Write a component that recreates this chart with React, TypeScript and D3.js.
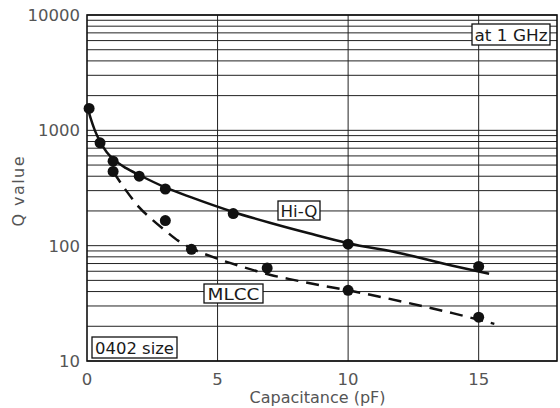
import React from "react";
import * as d3 from "d3";

const xTicks = [0, 5, 10, 15];
const yTicks = [10, 100, 1000, 10000];

// measured points
const hiqPtsX = [0.08, 0.5, 1, 2, 3, 5.6, 10, 15];
const hiqPtsY = [1550, 780, 540, 400, 310, 190, 103, 66];
const mlccPtsX = [1, 3, 4, 6.9, 10, 15];
const mlccPtsY = [440, 165, 93, 64, 41, 24];

// fitted curves
const hiqCurveX = [0, 0.15, 0.3, 0.5, 0.75, 1, 1.5, 2, 3, 4, 5.6, 7, 8.5, 10, 12, 14, 15.4];
const hiqCurveY = [1650, 1250, 1000, 800, 650, 565, 470, 410, 320, 262, 196, 158, 128, 105, 86, 67, 57];
const mlccCurveX = [1, 1.5, 2, 2.5, 3, 3.5, 4, 5, 6, 7, 8, 9, 10, 12, 14, 15.6];
const mlccCurveY = [440, 300, 215, 168, 135, 110, 95, 77, 65, 56, 50, 45, 41, 33, 26, 21];

const W = 560, H = 408;
const m = { left: 87, right: 557, top: 15, bottom: 361 };

export default function App() {
  const x = d3.scaleLinear().domain([0, 18]).range([m.left, m.right]);
  const y = d3.scaleLog().domain([10, 10000]).range([m.bottom, m.top]);

  const minor: number[] = [];
  [10, 100, 1000].forEach((d) => {
    for (let k = 1; k <= 9; k++) minor.push(d * k);
  });
  minor.push(10000);

  const line = d3
    .line<[number, number]>()
    .x((d) => x(d[0]))
    .y((d) => y(d[1]))
    .curve(d3.curveMonotoneX);

  const hiqCurve: [number, number][] = hiqCurveX.map((v, i) => [v, hiqCurveY[i]]);
  const mlccCurve: [number, number][] = mlccCurveX.map((v, i) => [v, mlccCurveY[i]]);

  const font = "'DejaVu Sans', sans-serif";
  const tickColor = "#555";

  const boxLabel = (
    label: string,
    bx: number,
    by: number,
    bw: number,
    bh: number,
    tl: number,
    key: string
  ) => (
    <g key={key}>
      <rect x={bx} y={by} width={bw} height={bh} fill="white" stroke="#111" strokeWidth={1.3} />
      <text
        x={bx + bw / 2}
        y={by + bh / 2 + 6}
        textAnchor="middle"
        fontSize={16.5}
        fontFamily={font}
        fill="#1a1a1a"
        textLength={tl}
        lengthAdjust="spacingAndGlyphs"
      >
        {label}
      </text>
    </g>
  );

  return (
    <svg width={W} height={H} style={{ position: "absolute", left: 0, top: 0, background: "white" }}>
      <rect x={0} y={0} width={W} height={H} fill="white" />
      {/* horizontal grid */}
      {minor.map((v) => (
        <line key={"h" + v} x1={m.left} x2={m.right} y1={y(v)} y2={y(v)} stroke="#222" strokeWidth={1} />
      ))}
      {/* vertical grid */}
      {xTicks.slice(1).map((v) => (
        <line key={"v" + v} x1={x(v)} x2={x(v)} y1={m.top} y2={m.bottom} stroke="#222" strokeWidth={1} />
      ))}
      {/* border */}
      <rect
        x={m.left}
        y={m.top}
        width={m.right - m.left}
        height={m.bottom - m.top}
        fill="none"
        stroke="#111"
        strokeWidth={1.6}
      />
      {/* curves */}
      <path d={line(hiqCurve) || ""} fill="none" stroke="#111" strokeWidth={2.5} />
      <path d={line(mlccCurve) || ""} fill="none" stroke="#111" strokeWidth={2.5} strokeDasharray="13,8" />
      {/* points */}
      {hiqPtsX.map((v, i) => (
        <circle key={"hp" + i} cx={x(v)} cy={y(hiqPtsY[i])} r={5.5} fill="#111" />
      ))}
      {mlccPtsX.map((v, i) => (
        <circle key={"mp" + i} cx={x(v)} cy={y(mlccPtsY[i])} r={5.5} fill="#111" />
      ))}
      {/* labels */}
      {boxLabel("Hi-Q", 278, 201, 42, 19, 37, "hiq")}
      {boxLabel("MLCC", 204, 284, 59, 19, 52, "mlcc")}
      {boxLabel("0402 size", 92, 337, 85, 21, 79, "size")}
      {boxLabel("at 1 GHz", 472, 24, 78, 21, 73, "ghz")}
      {/* y ticks */}
      {yTicks.map((v) => (
        <text
          key={"yt" + v}
          x={80}
          y={y(v) + 6}
          textAnchor="end"
          fontSize={16.5}
          fontFamily={font}
          fill={tickColor}
        >
          {v}
        </text>
      ))}
      {/* x ticks */}
      {xTicks.map((v) => (
        <text
          key={"xt" + v}
          x={x(v)}
          y={385}
          textAnchor="middle"
          fontSize={16.5}
          fontFamily={font}
          fill={tickColor}
        >
          {v}
        </text>
      ))}
      <text x={317.5} y={403} textAnchor="middle" fontSize={16} fontFamily={font} fill={tickColor}>
        Capacitance (pF)
      </text>
      <text
        transform={`translate(24, 191.5) rotate(-90)`}
        textAnchor="middle"
        fontSize={16}
        fontFamily={font}
        fill={tickColor}
        textLength={70}
        lengthAdjust="spacing"
      >
        Q value
      </text>
    </svg>
  );
}
